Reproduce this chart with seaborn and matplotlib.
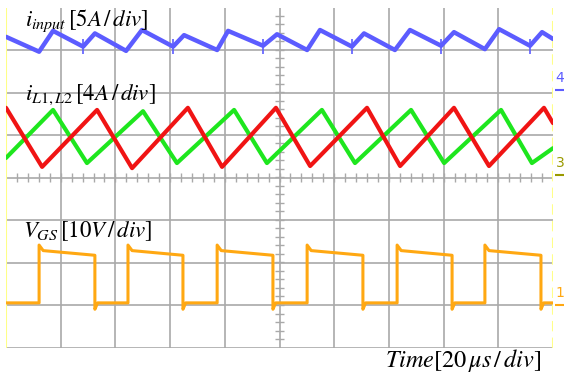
import matplotlib
matplotlib.use("Agg")
import matplotlib.pyplot as plt
import numpy as np
import pandas as pd
import seaborn as sns

# time in us (10 div x 20 us), amplitude in screen divisions (-4 .. 4)
blue_t = [0.0, 12.1, 17.2, 28.2, 32.5, 43.9, 49.7, 61.1, 65.1, 77.2, 81.2, 94.0, 99.1,
          110.1, 114.8, 126.5, 130.9, 142.2, 147.7, 159.1, 163.8, 175.1, 180.3, 191.6, 196.0, 200.0]
blue_v = [3.31, 2.96, 3.45, 3.08, 3.39, 2.98, 3.47, 3.08, 3.35, 3.00, 3.45, 3.10, 3.37,
          3.00, 3.47, 3.08, 3.39, 3.00, 3.47, 3.10, 3.42, 3.02, 3.49, 3.10, 3.42, 3.26]
blue_spike_t = [28.2, 61.1, 94.0, 126.5, 159.1, 191.6]

red_t = [0.0, 13.2, 33.3, 46.1, 66.5, 79.0, 98.7, 111.2, 132.0, 144.1, 163.8, 176.6, 196.7, 200.0]
red_v = [1.64, 0.25, 1.59, 0.22, 1.64, 0.25, 1.64, 0.27, 1.64, 0.27, 1.64, 0.27, 1.64, 1.28]

green_t = [0.0, 17.2, 29.6, 50.1, 62.5, 83.4, 95.4, 115.5, 127.6, 148.1, 160.2, 181.0, 192.3, 200.0]
green_v = [0.46, 1.59, 0.34, 1.56, 0.34, 1.59, 0.34, 1.59, 0.34, 1.59, 0.34, 1.59, 0.34, 0.69]

gate_rise = [12.1, 44.6, 77.2, 110.1, 143.0, 175.1]
gate_fall = [32.5, 64.7, 97.6, 130.5, 163.1, 195.6]
gate_low, gate_dip = -2.95, -3.10
gate_peak, gate_high_start, gate_high_end = -1.59, -1.72, -1.83

# ground level markers at the right border (channel 4, 3, 1)
marker_v = [2.06, 0.06, -3.0]
marker_lbl = ["4", "3", "1"]

# build the gate waveform path from its edges
gt, gv = [0.0], [gate_low]
for r, f in zip(gate_rise, gate_fall):
    gt += [r, r, r + 1.5, f, f, f + 1.0]
    gv += [gate_low, gate_peak, gate_high_start, gate_high_end, gate_dip, gate_low]
gt.append(200.0)
gv.append(gate_low)

sns.set_style("white")
plt.rcParams["mathtext.fontset"] = "stix"

fig = plt.figure(figsize=(5.64, 3.78), dpi=100)
ax = fig.add_axes([6 / 564, 30.5 / 378, 547 / 564, 340 / 378])
ax.set_xlim(0, 200)
ax.set_ylim(-4, 4)
ax.axis("off")

grid_col = "#a9a9a9"
for x in range(20, 200, 20):
    ax.axvline(x, color=grid_col, lw=1.2, zorder=0)
for y in range(-3, 4):
    ax.axhline(y, color=grid_col, lw=1.2, zorder=0)
ax.axhline(-4, color=grid_col, lw=1.2, zorder=0)
ax.vlines(np.arange(4, 200, 4), -0.1, 0.1, color=grid_col, lw=1.0, zorder=0)
ax.hlines(np.arange(-3.8, 4, 0.2), 98.5, 101.5, color=grid_col, lw=1.0, zorder=0)
ax.axvline(0, color="#ffff88", lw=1.5, zorder=0)
ax.axvline(200, color="#ffff88", lw=1.5, ls=(0, (5, 3)), zorder=0)

sns.lineplot(x=blue_t, y=blue_v, ax=ax, color="#5c5cff", lw=3.2, sort=False, estimator=None)
ax.vlines(blue_spike_t, 2.9, 3.25, color="#5c5cff", lw=1.2)
sns.lineplot(x=green_t, y=green_v, ax=ax, color="#1ee61e", lw=3.0, sort=False, estimator=None)
sns.lineplot(x=red_t, y=red_v, ax=ax, color="#f01414", lw=3.0, sort=False, estimator=None)
sns.lineplot(x=gt, y=gv, ax=ax, color="#ffa812", lw=2.2, sort=False, estimator=None)

mk_cols = ["#5c5cff", "#9a9a00", "#ffa812"]
ax.hlines(marker_v, 200.6, 206, colors=mk_cols, lw=1.5, clip_on=False)
for v, lbl, c in zip(marker_v, marker_lbl, mk_cols):
    ax.text(201.0, v + 0.12, lbl, fontsize=10, color=c, ha="left", va="bottom", clip_on=False)

tk = dict(fontsize=16.5, color="black", ha="left", va="baseline")
fig.text(25 / 564, 1 - 26 / 378, r"$i_{input}\,[5A\,/\,div]$", **tk)
fig.text(25 / 564, 1 - 100 / 378, r"$i_{L1,L2}\,[4A\,/\,div]$", **tk)
fig.text(23 / 564, 1 - 237 / 378, r"$V_{GS}\,[10V\,/\,div]$", **tk)
fig.text(385 / 564, 1 - 367 / 378, r"$Time[20\,\mu s\,/\,div]$", fontsize=17.5,
         color="black", ha="left", va="baseline")

fig.savefig("out.png", dpi=100)
